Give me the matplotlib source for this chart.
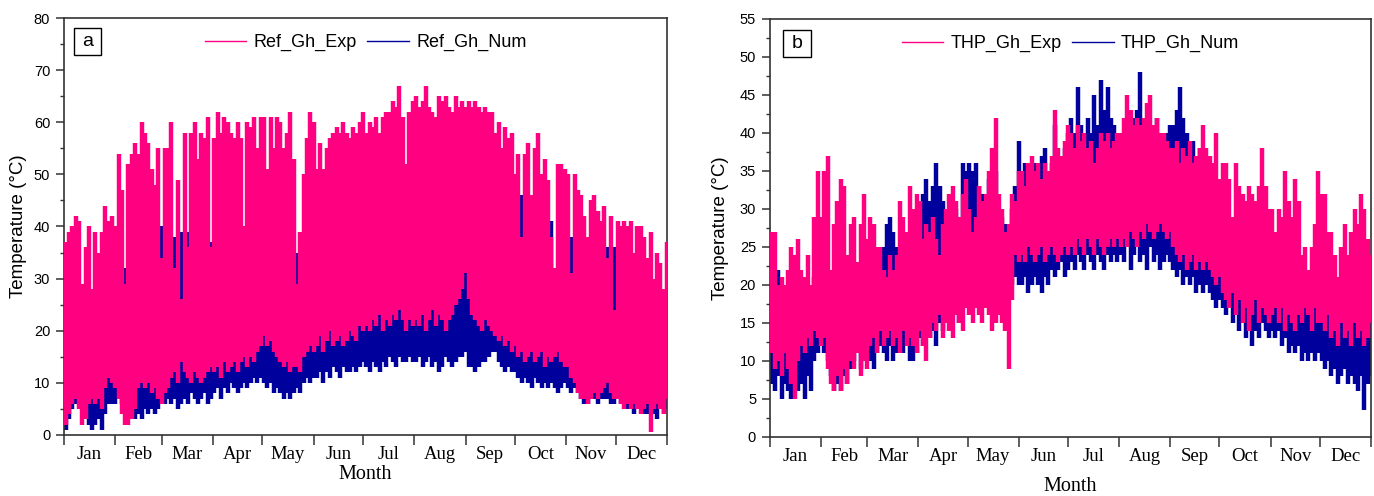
import numpy as np
import matplotlib
matplotlib.use('Agg')
import matplotlib.pyplot as plt
from matplotlib.lines import Line2D
from matplotlib.patches import Rectangle
from matplotlib.ticker import MultipleLocator

plt.rcParams['font.family'] = ['Liberation Sans', 'DejaVu Sans']

months = ['Jan', 'Feb', 'Mar', 'Apr', 'May', 'Jun',
          'Jul', 'Aug', 'Sep', 'Oct', 'Nov', 'Dec']
month_starts = [0, 31, 59, 90, 120, 151, 181, 212, 243, 273, 304, 334, 365]

# one low/high pair per 2-day step (183 steps), rows = months
ref_exp_max = [
    37, 39, 40, 42, 41, 29, 36, 40, 28, 39, 35, 39, 44, 41, 42, 40,
    54, 47, 29, 52, 54, 56, 54, 60, 58, 56, 51, 48, 55, 34,
    55, 55, 60, 32, 49, 26, 58, 36, 58, 60, 53, 58, 57, 61, 36,
    57, 62, 58, 61, 60, 58, 57, 60, 57, 40, 60, 59, 61, 55, 61,
    61, 51, 61, 55, 61, 60, 55, 58, 62, 53, 29, 39, 50, 57, 62, 60,
    51, 56, 51, 55, 57, 58, 59, 58, 60, 58, 57, 59, 58, 60, 62,
    58, 60, 59, 61, 58, 61, 62, 62, 64, 63, 67, 61, 52, 62, 64,
    65, 63, 64, 67, 63, 62, 61, 65, 64, 65, 63, 62, 65, 63, 64, 63,
    64, 63, 64, 63, 62, 63, 62, 62, 58, 60, 55, 59, 57, 58, 50,
    54, 38, 54, 56, 46, 55, 58, 50, 53, 49, 38, 32, 52, 52, 51,
    50, 31, 50, 47, 46, 42, 38, 45, 46, 43, 41, 44, 34, 42, 24,
    41, 40, 41, 40, 41, 35, 40, 40, 38, 34, 39, 30, 35, 33, 28, 37,
]
ref_exp_min = [
    2, 4, 6, 7, 5, 2, 3, 6, 7, 6, 7, 5, 9, 11, 10, 9,
    7, 4, 2, 2, 3, 5, 9, 10, 9, 10, 8, 9, 7, 6,
    8, 9, 11, 12, 10, 14, 12, 11, 10, 12, 11, 10, 11, 12, 13,
    12, 13, 11, 14, 12, 13, 14, 12, 14, 15, 13, 15, 14, 16, 17,
    19, 17, 18, 16, 15, 14, 13, 14, 12, 13, 13, 12, 15, 16, 17, 16,
    17, 19, 16, 18, 20, 17, 18, 19, 17, 18, 20, 19, 18, 21, 20,
    21, 20, 22, 21, 23, 20, 22, 21, 23, 22, 24, 22, 20, 22, 21,
    22, 21, 23, 20, 22, 24, 21, 23, 22, 20, 22, 23, 25, 26, 28, 31,
    26, 23, 22, 21, 20, 22, 21, 20, 19, 18, 19, 17, 18, 16, 17,
    15, 16, 14, 15, 16, 14, 15, 16, 13, 15, 14, 15, 16, 14, 13,
    13, 11, 10, 8, 7, 7, 6, 7, 8, 7, 8, 9, 10, 8, 7,
    7, 6, 5, 6, 5, 6, 5, 4, 5, 6, 0.5, 5, 6, 5, 4, 7,
]
ref_num_max = [
    8, 10, 11, 10, 9, 8, 9, 10, 9, 11, 9, 8, 13, 13, 12, 12,
    12, 10, 32, 8, 9, 11, 12, 13, 12, 14, 11, 12, 10, 40,
    12, 13, 15, 38, 14, 39, 16, 39, 14, 17, 15, 14, 16, 17, 37,
    16, 17, 15, 18, 16, 20, 18, 16, 18, 19, 17, 19, 18, 20, 21,
    22, 21, 22, 20, 19, 18, 18, 19, 17, 18, 35, 17, 19, 20, 21, 20,
    21, 23, 20, 22, 24, 21, 22, 23, 22, 23, 25, 23, 22, 25, 24,
    25, 24, 26, 25, 27, 24, 26, 25, 28, 26, 28, 26, 25, 26, 25,
    26, 25, 27, 25, 26, 28, 25, 27, 26, 25, 27, 28, 29, 30, 31, 32,
    30, 27, 26, 25, 24, 26, 25, 24, 23, 22, 23, 21, 22, 20, 21,
    19, 46, 18, 19, 20, 18, 19, 20, 17, 19, 41, 19, 20, 18, 17,
    16, 38, 14, 12, 11, 11, 10, 11, 12, 11, 12, 13, 36, 12, 36,
    10, 9, 9, 10, 9, 10, 9, 9, 9, 10, 9, 9, 10, 9, 8, 10,
]
ref_num_min = [
    1, 3, 5, 6, 6, 5, 4, 2, 1, 2, 3, 1, 4, 6, 6, 6,
    8, 6, 6, 5, 6, 3, 4, 3, 5, 4, 5, 4, 5, 7,
    6, 7, 6, 7, 5, 6, 7, 6, 8, 7, 6, 7, 8, 6, 7,
    8, 9, 7, 9, 8, 10, 9, 8, 9, 10, 9, 10, 11, 10, 11,
    10, 9, 10, 8, 9, 8, 7, 8, 7, 8, 9, 8, 10, 11, 10, 11,
    11, 12, 10, 12, 11, 13, 12, 11, 13, 12, 12, 13, 12, 13, 14,
    13, 12, 14, 13, 12, 14, 13, 15, 14, 13, 15, 14, 14, 15, 14,
    14, 15, 13, 14, 15, 13, 14, 12, 13, 15, 14, 13, 14, 15, 15, 16,
    13, 13, 12, 13, 14, 14, 15, 16, 16, 14, 13, 12, 13, 12, 12,
    11, 10, 11, 10, 9, 11, 10, 9, 10, 9, 10, 9, 8, 9, 10,
    9, 8, 9, 8, 7, 6, 6, 7, 7, 6, 7, 7, 7, 6, 6,
    7, 6, 6, 5, 6, 4, 5, 5, 4, 4, 5, 4, 3, 5, 4, 5,
]

thp_exp_max = [
    27, 27, 20, 21, 20, 22, 25, 24, 26, 22, 21, 24, 20, 29, 35, 29,
    35, 37, 22, 28, 31, 34, 33, 24, 28, 29, 23, 28, 32, 26,
    29, 28, 25, 25, 22, 21, 24, 22, 24, 31, 29, 27, 33, 30, 32,
    31, 26, 28, 27, 29, 26, 24, 28, 30, 32, 33, 31, 29, 32, 34,
    30, 27, 29, 33, 31, 32, 35, 38, 42, 32, 30, 27, 28, 32, 31, 35,
    35, 33, 36, 37, 35, 36, 34, 36, 35, 37, 43, 38, 37, 39, 41,
    40, 38, 41, 39, 40, 38, 39, 36, 38, 40, 39, 40, 38, 39, 40,
    40, 42, 45, 43, 41, 42, 41, 42, 44, 45, 41, 42, 40, 40, 39, 38,
    38, 39, 36, 38, 37, 39, 36, 37, 38, 41, 38, 37, 36, 40, 34,
    36, 36, 34, 29, 36, 33, 32, 31, 33, 32, 31, 33, 38, 33, 30,
    30, 27, 30, 29, 35, 31, 29, 34, 31, 24, 25, 22, 25, 28, 35,
    32, 32, 27, 27, 24, 21, 25, 28, 24, 27, 30, 28, 32, 30, 26, 24,
]
thp_exp_min = [
    11, 9, 10, 8, 11, 9, 7, 5, 10, 12, 11, 13, 12, 14, 13, 12,
    13, 9, 7, 6, 8, 6, 9, 7, 10, 9, 11, 8, 10, 9,
    12, 13, 11, 14, 12, 13, 14, 12, 13, 11, 14, 12, 13, 12, 11,
    14, 12, 10, 13, 15, 14, 16, 13, 15, 14, 13, 16, 15, 14, 17,
    16, 15, 17, 16, 15, 17, 16, 14, 15, 16, 15, 14, 9, 18, 24, 23,
    24, 23, 25, 24, 23, 24, 25, 23, 24, 25, 24, 23, 24, 25, 24,
    25, 24, 26, 25, 24, 26, 25, 24, 26, 25, 24, 25, 26, 25, 26,
    25, 26, 25, 27, 26, 25, 27, 26, 28, 27, 26, 27, 28, 27, 26, 27,
    25, 24, 23, 24, 22, 23, 24, 22, 23, 22, 23, 22, 21, 20, 21,
    19, 18, 17, 19, 16, 18, 15, 17, 14, 16, 18, 15, 17, 16, 15,
    16, 17, 15, 17, 14, 16, 15, 14, 16, 15, 17, 16, 14, 17, 15,
    15, 14, 16, 13, 14, 12, 15, 13, 14, 12, 15, 13, 14, 12, 13, 15,
]
thp_num_max = [
    19, 18, 22, 20, 17, 19, 18, 16, 17, 15, 19, 16, 18, 21, 17, 19,
    20, 22, 17, 19, 20, 21, 18, 16, 20, 19, 17, 18, 20, 22,
    22, 20, 23, 21, 25, 28, 29, 27, 25, 24, 26, 24, 27, 26, 25,
    30, 32, 34, 31, 33, 36, 33, 31, 28, 29, 31, 30, 28, 36, 35,
    36, 35, 36, 33, 32, 31, 34, 33, 35, 30, 29, 28, 27, 30, 33, 39,
    34, 36, 35, 33, 36, 34, 37, 38, 35, 36, 41, 37, 36, 38, 40,
    42, 40, 46, 41, 39, 42, 40, 45, 41, 47, 43, 46, 42, 41, 40,
    38, 39, 40, 37, 42, 43, 48, 38, 37, 39, 36, 42, 38, 39, 40, 41,
    41, 43, 46, 42, 40, 38, 39, 37, 38, 36, 37, 35, 33, 31, 30,
    28, 27, 29, 26, 25, 27, 24, 26, 25, 24, 23, 25, 24, 23, 22,
    22, 21, 23, 20, 22, 21, 20, 22, 21, 19, 20, 19, 18, 20, 19,
    19, 18, 17, 19, 18, 16, 17, 18, 16, 19, 17, 18, 16, 15, 17, 20,
]
thp_num_min = [
    7, 6, 8, 5, 7, 6, 5, 8, 6, 7, 5, 8, 6, 10, 11, 12,
    11, 10, 8, 6, 7, 6, 8, 7, 9, 10, 11, 9, 10, 11,
    10, 9, 11, 12, 11, 10, 12, 10, 11, 12, 11, 12, 10, 10, 11,
    13, 12, 14, 13, 14, 12, 15, 14, 16, 15, 17, 16, 15, 17, 18,
    17, 18, 17, 19, 18, 17, 18, 19, 17, 18, 17, 18, 19, 20, 21, 20,
    20, 21, 19, 20, 21, 20, 19, 21, 20, 22, 21, 22, 23, 21, 22,
    23, 22, 24, 23, 22, 24, 23, 22, 24, 23, 22, 24, 23, 24, 23,
    24, 23, 25, 22, 24, 26, 23, 24, 22, 25, 23, 24, 22, 23, 24, 23,
    22, 21, 22, 20, 21, 20, 21, 19, 20, 19, 20, 19, 18, 17, 18,
    17, 16, 17, 15, 16, 14, 15, 13, 14, 12, 14, 13, 15, 14, 13,
    14, 13, 14, 12, 13, 11, 12, 11, 12, 10, 11, 10, 11, 10, 11,
    10, 9, 10, 8, 9, 7, 8, 9, 7, 8, 7, 6, 8, 3.5, 7, 8,
]

PINK = '#FF0080'
NAVY = '#00009C'


def daily_range(ax, lo, hi, color, z):
    # each 2-day step drawn as one solid stroke from its low to its high;
    # strokes are a little wider than the step so neighbours overlap
    days = 2 * np.arange(len(lo)) + 1
    ax.vlines(days, lo, hi, colors=color, lw=3.2, capstyle='butt', zorder=z)


def draw_panel(ax, exp_lo, exp_hi, num_lo, num_hi, names, ymax, ystep,
               letter, box, ylab_x, xlab_y):
    daily_range(ax, num_lo, num_hi, NAVY, 2)
    daily_range(ax, exp_lo, exp_hi, PINK, 3)

    ax.set_xlim(0, 365)
    ax.set_ylim(0, ymax)

    ax.set_xticks(month_starts)
    ax.set_xticklabels([])
    centers = [(a + b) / 2 for a, b in zip(month_starts[:-1], month_starts[1:])]
    ax.set_xticks(centers, minor=True)
    ax.set_xticklabels(months, minor=True, fontfamily='Liberation Serif',
                       fontsize=13.5)
    ax.tick_params(axis='x', which='major', length=7, width=1.1,
                   direction='out', color='#333333')
    ax.tick_params(axis='x', which='minor', length=0, pad=8)

    ax.set_yticks(np.arange(0, ymax + 0.1, ystep))
    ax.yaxis.set_minor_locator(MultipleLocator(ystep / 2))
    ax.tick_params(axis='y', which='major', length=6, width=1.1,
                   labelsize=10.5, pad=4, color='#333333')
    ax.tick_params(axis='y', which='minor', length=3, width=1.0,
                   color='#333333')

    for sp in ax.spines.values():
        sp.set_color('#333333')
        sp.set_linewidth(1.2)

    ax.set_ylabel('Temperature (°C)', fontsize=13.5)
    ax.yaxis.set_label_coords(ylab_x, 0.5)
    ax.set_xlabel('Month', fontfamily='Liberation Serif', fontsize=14.5)
    ax.xaxis.set_label_coords(0.5, xlab_y)

    handles = [Line2D([], [], color=PINK, lw=1.0),
               Line2D([], [], color=NAVY, lw=1.0)]
    ax.legend(handles, names, loc='upper center', ncol=2, frameon=False,
              fontsize=13, handlelength=2.3, handletextpad=0.4,
              columnspacing=0.6)

    x0, y0, x1, y1 = box
    ax.add_patch(Rectangle((x0, y0), x1 - x0, y1 - y0, transform=ax.transAxes,
                           fill=False, ec='black', lw=1.0, zorder=5))
    ax.text((x0 + x1) / 2, (y0 + y1) / 2, letter, transform=ax.transAxes,
            ha='center', va='center', fontsize=14, zorder=6)


fig = plt.figure(figsize=(13.74, 4.96), dpi=100)
ax_a = fig.add_axes([0.0466, 0.1230, 0.4389, 0.8407])
ax_b = fig.add_axes([0.5604, 0.1190, 0.4374, 0.8427])

draw_panel(ax_a, ref_exp_min, ref_exp_max, ref_num_min, ref_num_max,
           ['Ref_Gh_Exp', 'Ref_Gh_Num'], 80, 10, 'a',
           (0.0166, 0.911, 0.0614, 0.976), -0.061, -0.072)
draw_panel(ax_b, thp_exp_min, thp_exp_max, thp_num_min, thp_num_max,
           ['THP_Gh_Exp', 'THP_Gh_Num'], 55, 5, 'b',
           (0.0216, 0.909, 0.0682, 0.974), -0.068, -0.095)

fig.savefig('out.png', dpi=100)
